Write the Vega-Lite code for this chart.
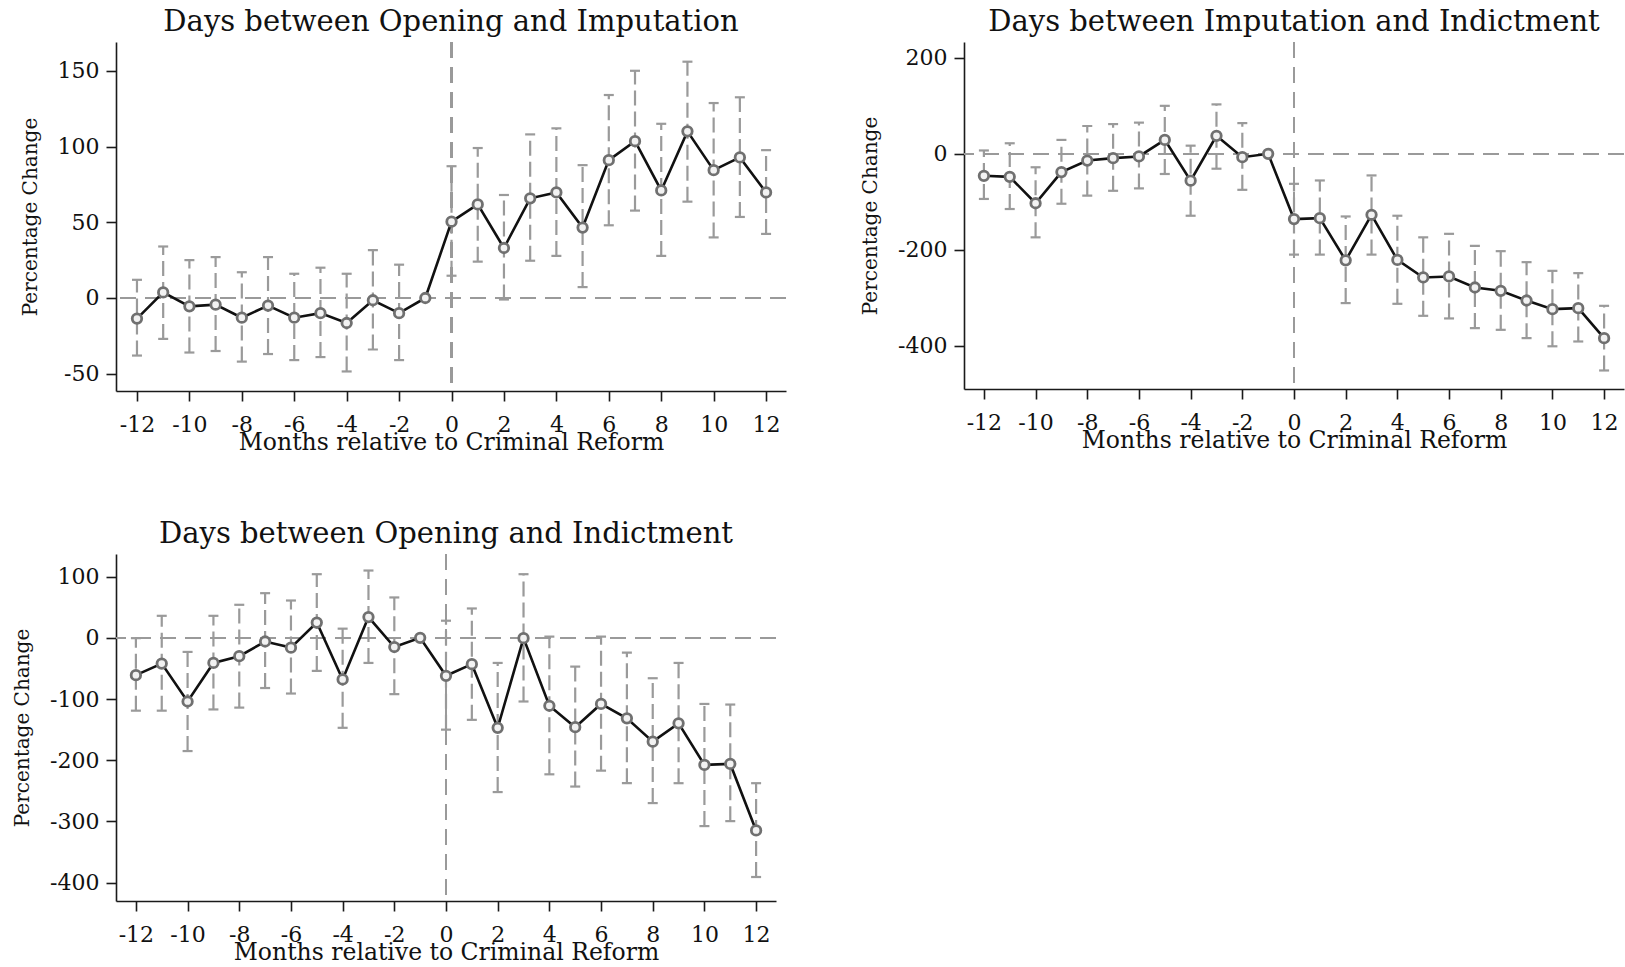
{
  "$schema": "https://vega.github.io/schema/vega-lite/v6.json",
  "background": "white",
  "padding": {"left": 12, "top": 8, "right": 0, "bottom": 0},
  "config": {
    "font": "DejaVu Serif",
    "view": {"stroke": null},
    "axis": {"grid": false, "domainColor": "#1a1a1a", "domainWidth": 1.6, "tickColor": "#1a1a1a", "tickWidth": 1.6, "tickSize": 10, "labelFont": "DejaVu Serif", "labelFontSize": 22, "labelColor": "#111", "titleFont": "DejaVu Serif", "titleFontWeight": "normal", "titleColor": "#111"},
    "axisX": {"labelPadding": 13, "titleFontSize": 23.5, "titlePadding": -5, "labelAngle": 0, "labelFlush": false, "labelOverlap": false},
    "axisY": {"labelPadding": 7, "titleFontSize": 20, "titlePadding": 17, "labelAngle": 0},
    "title": {"font": "DejaVu Serif", "fontSize": 29, "fontWeight": "normal", "color": "#111", "anchor": "middle", "offset": 4}
  },
  "datasets": {
    "d": [
      {"panel": "A", "m": -12, "est": -13.6, "lo": -38, "hi": 12},
      {"panel": "A", "m": -11, "est": 3.7, "lo": -27, "hi": 34},
      {"panel": "A", "m": -10, "est": -5.5, "lo": -36, "hi": 25},
      {"panel": "A", "m": -9, "est": -4.4, "lo": -35, "hi": 27},
      {"panel": "A", "m": -8, "est": -13, "lo": -42, "hi": 17},
      {"panel": "A", "m": -7, "est": -5, "lo": -37, "hi": 27},
      {"panel": "A", "m": -6, "est": -13, "lo": -41, "hi": 16},
      {"panel": "A", "m": -5, "est": -10, "lo": -39, "hi": 20},
      {"panel": "A", "m": -4, "est": -16.5, "lo": -48.5, "hi": 16},
      {"panel": "A", "m": -3, "est": -1.5, "lo": -34, "hi": 31.6},
      {"panel": "A", "m": -2, "est": -10, "lo": -41, "hi": 22},
      {"panel": "A", "m": -1, "est": 0, "lo": null, "hi": null},
      {"panel": "A", "m": 0, "est": 50.4, "lo": 14.7, "hi": 87},
      {"panel": "A", "m": 1, "est": 61.8, "lo": 24, "hi": 99},
      {"panel": "A", "m": 2, "est": 33, "lo": -1, "hi": 68},
      {"panel": "A", "m": 3, "est": 65.8, "lo": 24.6, "hi": 108},
      {"panel": "A", "m": 4, "est": 69.7, "lo": 27.8, "hi": 112},
      {"panel": "A", "m": 5, "est": 46.5, "lo": 7.2, "hi": 87.7},
      {"panel": "A", "m": 6, "est": 91, "lo": 48, "hi": 134},
      {"panel": "A", "m": 7, "est": 103.5, "lo": 57.7, "hi": 150},
      {"panel": "A", "m": 8, "est": 71, "lo": 27.8, "hi": 115},
      {"panel": "A", "m": 9, "est": 110, "lo": 63.6, "hi": 156},
      {"panel": "A", "m": 10, "est": 84.4, "lo": 40, "hi": 128.7},
      {"panel": "A", "m": 11, "est": 92.8, "lo": 53.5, "hi": 132.5},
      {"panel": "A", "m": 12, "est": 69.7, "lo": 42.3, "hi": 97.6},
      {"panel": "B", "m": -12, "est": -45.8, "lo": -94, "hi": 7},
      {"panel": "B", "m": -11, "est": -48, "lo": -115, "hi": 22},
      {"panel": "B", "m": -10, "est": -103, "lo": -174, "hi": -28},
      {"panel": "B", "m": -9, "est": -38, "lo": -104, "hi": 29},
      {"panel": "B", "m": -8, "est": -14, "lo": -87, "hi": 58},
      {"panel": "B", "m": -7, "est": -9, "lo": -77, "hi": 62},
      {"panel": "B", "m": -6, "est": -5.5, "lo": -72, "hi": 65},
      {"panel": "B", "m": -5, "est": 29, "lo": -42, "hi": 100},
      {"panel": "B", "m": -4, "est": -56, "lo": -129, "hi": 17},
      {"panel": "B", "m": -3, "est": 37.5, "lo": -31, "hi": 103},
      {"panel": "B", "m": -2, "est": -7, "lo": -75, "hi": 64},
      {"panel": "B", "m": -1, "est": 0, "lo": null, "hi": null},
      {"panel": "B", "m": 0, "est": -136, "lo": -210, "hi": -62.5},
      {"panel": "B", "m": 1, "est": -134, "lo": -210, "hi": -55.5},
      {"panel": "B", "m": 2, "est": -222, "lo": -311, "hi": -130.5},
      {"panel": "B", "m": 3, "est": -127, "lo": -210, "hi": -45},
      {"panel": "B", "m": 4, "est": -221, "lo": -312.5, "hi": -129},
      {"panel": "B", "m": 5, "est": -257.6, "lo": -337.5, "hi": -174},
      {"panel": "B", "m": 6, "est": -255.5, "lo": -343, "hi": -166.7},
      {"panel": "B", "m": 7, "est": -278.5, "lo": -363, "hi": -191.7},
      {"panel": "B", "m": 8, "est": -285.4, "lo": -366.7, "hi": -202.8},
      {"panel": "B", "m": 9, "est": -305.6, "lo": -384, "hi": -225.7},
      {"panel": "B", "m": 10, "est": -323.6, "lo": -401, "hi": -243.8},
      {"panel": "B", "m": 11, "est": -321.5, "lo": -391, "hi": -248.6},
      {"panel": "B", "m": 12, "est": -384, "lo": -451.4, "hi": -316.7},
      {"panel": "C", "m": -12, "est": -61, "lo": -119, "hi": -0.5},
      {"panel": "C", "m": -11, "est": -42, "lo": -119, "hi": 36},
      {"panel": "C", "m": -10, "est": -104, "lo": -185, "hi": -23},
      {"panel": "C", "m": -9, "est": -41, "lo": -117, "hi": 36},
      {"panel": "C", "m": -8, "est": -30, "lo": -114, "hi": 54},
      {"panel": "C", "m": -7, "est": -6, "lo": -82, "hi": 73},
      {"panel": "C", "m": -6, "est": -16, "lo": -91, "hi": 61},
      {"panel": "C", "m": -5, "est": 25, "lo": -54, "hi": 104},
      {"panel": "C", "m": -4, "est": -68, "lo": -147, "hi": 15},
      {"panel": "C", "m": -3, "est": 34, "lo": -41, "hi": 110},
      {"panel": "C", "m": -2, "est": -15, "lo": -92, "hi": 66},
      {"panel": "C", "m": -1, "est": 0, "lo": null, "hi": null},
      {"panel": "C", "m": 0, "est": -62, "lo": -150, "hi": 28},
      {"panel": "C", "m": 1, "est": -43, "lo": -134, "hi": 48},
      {"panel": "C", "m": 2, "est": -147, "lo": -252, "hi": -41},
      {"panel": "C", "m": 3, "est": -0.5, "lo": -104, "hi": 104},
      {"panel": "C", "m": 4, "est": -111, "lo": -223, "hi": 2},
      {"panel": "C", "m": 5, "est": -146, "lo": -243, "hi": -47},
      {"panel": "C", "m": 6, "est": -108, "lo": -217, "hi": 2},
      {"panel": "C", "m": 7, "est": -131.5, "lo": -237.5, "hi": -24},
      {"panel": "C", "m": 8, "est": -169.6, "lo": -270, "hi": -66},
      {"panel": "C", "m": 9, "est": -139.7, "lo": -237.5, "hi": -41},
      {"panel": "C", "m": 10, "est": -207.6, "lo": -307.6, "hi": -108},
      {"panel": "C", "m": 11, "est": -206, "lo": -299.5, "hi": -109},
      {"panel": "C", "m": 12, "est": -314.7, "lo": -390.8, "hi": -237.5}
    ]
  },
  "columns": 2,
  "align": "none",
  "spacing": {"row": 66, "column": 73},
  "concat": [
    {
      "title": "Days between Opening and Imputation",
      "width": 670, "height": 349,
      "data": {"name": "d"},
      "transform": [{"filter": "datum.panel === 'A'"}],
      "layer": [
        {"mark": {"type": "rule", "color": "#9a9a9a", "strokeWidth": 1.5, "strokeDash": [16, 9]}, "encoding": {"y": {"datum": 0, "type": "quantitative", "title": "Percentage Change"}}},
        {"mark": {"type": "rule", "color": "#9a9a9a", "strokeWidth": 1.5, "strokeDash": [16, 9]}, "encoding": {"x": {"datum": 0, "type": "quantitative", "title": "Months relative to Criminal Reform"}}},
        {"transform": [{"filter": "datum.lo != null"}], "mark": {"type": "rule", "color": "#9a9a9a", "strokeWidth": 2.2, "strokeDash": [15, 6]},
         "encoding": {"x": {"field": "m", "type": "quantitative", "title": "Months relative to Criminal Reform"}, "y": {"field": "lo", "type": "quantitative", "title": "Percentage Change"}, "y2": {"field": "hi"}}},
        {"transform": [{"filter": "datum.lo != null"}], "mark": {"type": "tick", "orient": "horizontal", "color": "#9a9a9a", "size": 10, "thickness": 2.2, "opacity": 1},
         "encoding": {"x": {"field": "m", "type": "quantitative", "title": "Months relative to Criminal Reform"}, "y": {"field": "lo", "type": "quantitative", "title": "Percentage Change"}}},
        {"transform": [{"filter": "datum.lo != null"}], "mark": {"type": "tick", "orient": "horizontal", "color": "#9a9a9a", "size": 10, "thickness": 2.2, "opacity": 1},
         "encoding": {"x": {"field": "m", "type": "quantitative", "title": "Months relative to Criminal Reform"}, "y": {"field": "hi", "type": "quantitative", "title": "Percentage Change"}}},
        {"mark": {"type": "line", "color": "#111", "strokeWidth": 2.6},
         "encoding": {
           "x": {"field": "m", "type": "quantitative", "title": "Months relative to Criminal Reform", "scale": {"domain": [-12.8, 12.76], "nice": false, "zero": false},
                 "axis": {"values": [-12,-11,-10,-9,-8,-7,-6,-5,-4,-3,-2,-1,0,1,2,3,4,5,6,7,8,9,10,11,12], "labelExpr": "datum.value % 2 === 0 ? toString(datum.value) : ''"}},
           "y": {"field": "est", "type": "quantitative", "title": "Percentage Change", "scale": {"domain": [-61.4, 169], "nice": false, "zero": false},
                 "axis": {"values": [-50, 0, 50, 100, 150], "labelExpr": "toString(datum.value)"}}}},
        {"mark": {"type": "point", "filled": true, "fill": "#f2f2f2", "stroke": "#707070", "strokeWidth": 2.8, "size": 90, "opacity": 1},
         "encoding": {"x": {"field": "m", "type": "quantitative", "title": "Months relative to Criminal Reform"}, "y": {"field": "est", "type": "quantitative", "title": "Percentage Change"}}}
      ]
    },
    {
      "title": "Days between Imputation and Indictment",
      "width": 660, "height": 347,
      "data": {"name": "d"},
      "transform": [{"filter": "datum.panel === 'B'"}],
      "layer": [
        {"mark": {"type": "rule", "color": "#9a9a9a", "strokeWidth": 1.5, "strokeDash": [16, 9]}, "encoding": {"y": {"datum": 0, "type": "quantitative", "title": "Percentage Change"}}},
        {"mark": {"type": "rule", "color": "#9a9a9a", "strokeWidth": 1.5, "strokeDash": [16, 9]}, "encoding": {"x": {"datum": 0, "type": "quantitative", "title": "Months relative to Criminal Reform"}}},
        {"transform": [{"filter": "datum.lo != null"}], "mark": {"type": "rule", "color": "#9a9a9a", "strokeWidth": 2.2, "strokeDash": [15, 6]},
         "encoding": {"x": {"field": "m", "type": "quantitative", "title": "Months relative to Criminal Reform"}, "y": {"field": "lo", "type": "quantitative", "title": "Percentage Change"}, "y2": {"field": "hi"}}},
        {"transform": [{"filter": "datum.lo != null"}], "mark": {"type": "tick", "orient": "horizontal", "color": "#9a9a9a", "size": 10, "thickness": 2.2, "opacity": 1},
         "encoding": {"x": {"field": "m", "type": "quantitative", "title": "Months relative to Criminal Reform"}, "y": {"field": "lo", "type": "quantitative", "title": "Percentage Change"}}},
        {"transform": [{"filter": "datum.lo != null"}], "mark": {"type": "tick", "orient": "horizontal", "color": "#9a9a9a", "size": 10, "thickness": 2.2, "opacity": 1},
         "encoding": {"x": {"field": "m", "type": "quantitative", "title": "Months relative to Criminal Reform"}, "y": {"field": "hi", "type": "quantitative", "title": "Percentage Change"}}},
        {"mark": {"type": "line", "color": "#111", "strokeWidth": 2.6},
         "encoding": {
           "x": {"field": "m", "type": "quantitative", "title": "Months relative to Criminal Reform", "scale": {"domain": [-12.77, 12.77], "nice": false, "zero": false},
                 "axis": {"values": [-12,-11,-10,-9,-8,-7,-6,-5,-4,-3,-2,-1,0,1,2,3,4,5,6,7,8,9,10,11,12], "labelExpr": "datum.value % 2 === 0 ? toString(datum.value) : ''"}},
           "y": {"field": "est", "type": "quantitative", "title": "Percentage Change", "scale": {"domain": [-490, 233], "nice": false, "zero": false},
                 "axis": {"values": [-400, -200, 0, 200], "labelExpr": "toString(datum.value)"}}}},
        {"mark": {"type": "point", "filled": true, "fill": "#f2f2f2", "stroke": "#707070", "strokeWidth": 2.8, "size": 90, "opacity": 1},
         "encoding": {"x": {"field": "m", "type": "quantitative", "title": "Months relative to Criminal Reform"}, "y": {"field": "est", "type": "quantitative", "title": "Percentage Change"}}}
      ]
    },
    {
      "title": "Days between Opening and Indictment",
      "width": 660, "height": 347,
      "data": {"name": "d"},
      "transform": [{"filter": "datum.panel === 'C'"}],
      "layer": [
        {"mark": {"type": "rule", "color": "#9a9a9a", "strokeWidth": 1.5, "strokeDash": [16, 9]}, "encoding": {"y": {"datum": 0, "type": "quantitative", "title": "Percentage Change"}}},
        {"mark": {"type": "rule", "color": "#9a9a9a", "strokeWidth": 1.5, "strokeDash": [16, 9]}, "encoding": {"x": {"datum": 0, "type": "quantitative", "title": "Months relative to Criminal Reform"}}},
        {"transform": [{"filter": "datum.lo != null"}], "mark": {"type": "rule", "color": "#9a9a9a", "strokeWidth": 2.2, "strokeDash": [15, 6]},
         "encoding": {"x": {"field": "m", "type": "quantitative", "title": "Months relative to Criminal Reform"}, "y": {"field": "lo", "type": "quantitative", "title": "Percentage Change"}, "y2": {"field": "hi"}}},
        {"transform": [{"filter": "datum.lo != null"}], "mark": {"type": "tick", "orient": "horizontal", "color": "#9a9a9a", "size": 10, "thickness": 2.2, "opacity": 1},
         "encoding": {"x": {"field": "m", "type": "quantitative", "title": "Months relative to Criminal Reform"}, "y": {"field": "lo", "type": "quantitative", "title": "Percentage Change"}}},
        {"transform": [{"filter": "datum.lo != null"}], "mark": {"type": "tick", "orient": "horizontal", "color": "#9a9a9a", "size": 10, "thickness": 2.2, "opacity": 1},
         "encoding": {"x": {"field": "m", "type": "quantitative", "title": "Months relative to Criminal Reform"}, "y": {"field": "hi", "type": "quantitative", "title": "Percentage Change"}}},
        {"mark": {"type": "line", "color": "#111", "strokeWidth": 2.6},
         "encoding": {
           "x": {"field": "m", "type": "quantitative", "title": "Months relative to Criminal Reform", "scale": {"domain": [-12.77, 12.77], "nice": false, "zero": false},
                 "axis": {"values": [-12,-11,-10,-9,-8,-7,-6,-5,-4,-3,-2,-1,0,1,2,3,4,5,6,7,8,9,10,11,12], "labelExpr": "datum.value % 2 === 0 ? toString(datum.value) : ''"}},
           "y": {"field": "est", "type": "quantitative", "title": "Percentage Change", "scale": {"domain": [-430, 137], "nice": false, "zero": false},
                 "axis": {"values": [-400, -300, -200, -100, 0, 100], "labelExpr": "toString(datum.value)"}}}},
        {"mark": {"type": "point", "filled": true, "fill": "#f2f2f2", "stroke": "#707070", "strokeWidth": 2.8, "size": 90, "opacity": 1},
         "encoding": {"x": {"field": "m", "type": "quantitative", "title": "Months relative to Criminal Reform"}, "y": {"field": "est", "type": "quantitative", "title": "Percentage Change"}}}
      ]
    }
  ]
}
